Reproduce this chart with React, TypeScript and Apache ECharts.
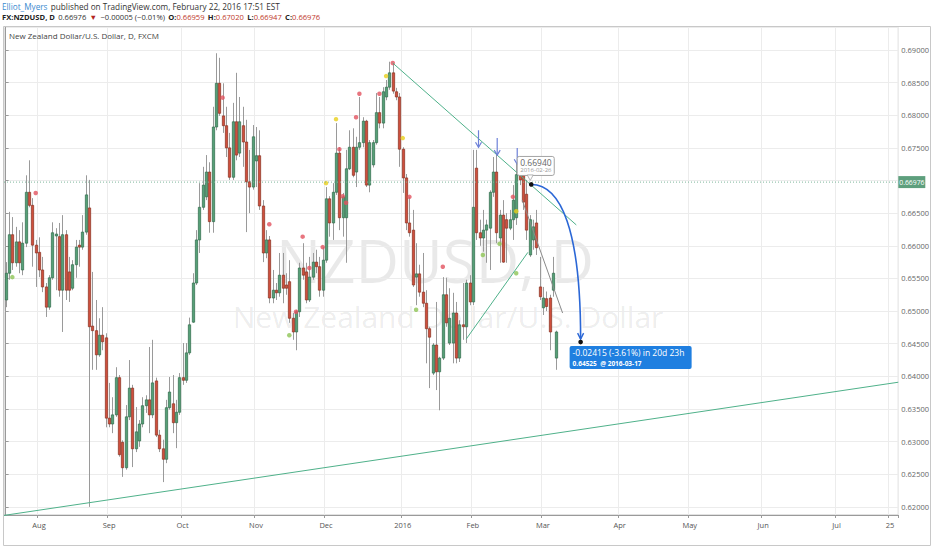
import { useEffect, useRef } from 'react';
import * as echarts from 'echarts';

// FXCM NZDUSD daily bars, first bar 2015-07-20, weekdays only
const firstDay = '2015-07-20';
const dayCount = 268;

const opens = [
  0.6517, 0.6558, 0.6617, 0.6574, 0.6606, 0.6563, 0.6604, 0.6682, 0.6662, 0.6601,
  0.659, 0.6563, 0.6537, 0.6506, 0.6551, 0.6615, 0.6614, 0.6532, 0.6617, 0.656,
  0.6535, 0.6571, 0.6601, 0.6598, 0.6621, 0.6658, 0.6477, 0.647, 0.6433, 0.6463,
  0.6459, 0.6336, 0.6327, 0.6341, 0.6398, 0.6299, 0.626, 0.6338, 0.6382, 0.6289,
  0.6301, 0.6327, 0.6355, 0.6364, 0.6341, 0.6393, 0.631, 0.6289, 0.6273, 0.6352,
  0.6358, 0.6329, 0.6345, 0.6398, 0.6394, 0.6436, 0.6483, 0.6543, 0.6609, 0.6659,
  0.6675, 0.6713, 0.6637, 0.6782, 0.6849, 0.6799, 0.6784, 0.675, 0.6705, 0.679,
  0.6742, 0.6784, 0.6759, 0.6698, 0.669, 0.673, 0.6738, 0.6661, 0.6589, 0.6609,
  0.652, 0.6532, 0.6528, 0.6555, 0.654, 0.6545, 0.6489, 0.6468, 0.6499, 0.6566,
  0.656, 0.6517, 0.6552, 0.6575, 0.6568, 0.6532, 0.6578, 0.6672, 0.6635, 0.6682,
  0.6742, 0.6643, 0.6643, 0.6718, 0.6751, 0.6713, 0.6751, 0.6758, 0.6791, 0.6693,
  0.6724, 0.6758, 0.6804, 0.6788, 0.6828, 0.6843, 0.6865, 0.6836, 0.6828, 0.6748,
  0.6704, 0.6635, 0.6624, 0.6552, 0.6557, 0.6529, 0.6512, 0.6473, 0.6405, 0.6448,
  0.6407, 0.6428, 0.6525, 0.6451, 0.6451, 0.6497, 0.6428, 0.6479, 0.6476, 0.6543,
  0.6514, 0.6719, 0.662, 0.6612, 0.6624, 0.6627, 0.6682, 0.6713, 0.6612, 0.6647,
  0.664, 0.6627, 0.664, 0.6643, 0.6712, 0.6712, 0.6679, 0.6586, 0.6609, 0.6635,
  0.6537, 0.6505, 0.6519, 0.652, 0.6532, 0.6428,
];
const highs = [
  0.6575, 0.6652, 0.6644, 0.6629, 0.6624, 0.6636, 0.6708, 0.6731, 0.6673, 0.6609,
  0.6613, 0.6583, 0.6543, 0.6555, 0.6636, 0.6627, 0.6635, 0.6647, 0.6624, 0.6583,
  0.6578, 0.6609, 0.6609, 0.6647, 0.6708, 0.6701, 0.656, 0.6517, 0.6489, 0.6506,
  0.6466, 0.639, 0.6368, 0.6414, 0.6402, 0.6302, 0.6356, 0.6425, 0.6387, 0.6353,
  0.6333, 0.6368, 0.6371, 0.6445, 0.6456, 0.6398, 0.6318, 0.6303, 0.6364, 0.6399,
  0.6402, 0.6364, 0.6405, 0.6451, 0.6451, 0.649, 0.6558, 0.6624, 0.6696, 0.6721,
  0.6739, 0.6728, 0.6813, 0.6895, 0.6888, 0.6849, 0.6813, 0.6773, 0.6819, 0.6865,
  0.6828, 0.6813, 0.6793, 0.6747, 0.6785, 0.6782, 0.6777, 0.667, 0.6624, 0.6615,
  0.6563, 0.6543, 0.6589, 0.6589, 0.6558, 0.6578, 0.6497, 0.6502, 0.6574, 0.6604,
  0.6574, 0.6583, 0.6589, 0.6594, 0.6583, 0.6598, 0.669, 0.6676, 0.6696, 0.6788,
  0.6751, 0.6681, 0.6747, 0.6777, 0.678, 0.6767, 0.6828, 0.6797, 0.6793, 0.6762,
  0.6762, 0.6834, 0.6828, 0.6843, 0.6854, 0.6882, 0.688, 0.6842, 0.6834, 0.6751,
  0.671, 0.6675, 0.6655, 0.6604, 0.6571, 0.6589, 0.6532, 0.6476, 0.6451, 0.6514,
  0.643, 0.6552, 0.6551, 0.6535, 0.6528, 0.6514, 0.6486, 0.6543, 0.6548, 0.6555,
  0.6747, 0.6747, 0.664, 0.6655, 0.664, 0.6685, 0.6736, 0.6742, 0.6655, 0.667,
  0.665, 0.6655, 0.6693, 0.6727, 0.6727, 0.6719, 0.6701, 0.6647, 0.664, 0.6655,
  0.6583, 0.6537, 0.653, 0.6525, 0.6583, 0.647,
];
const lows = [
  0.6506, 0.6548, 0.6563, 0.6568, 0.6558, 0.6555, 0.6598, 0.6659, 0.6568, 0.6537,
  0.6552, 0.6529, 0.6491, 0.6502, 0.6548, 0.6532, 0.6522, 0.6468, 0.6517, 0.6514,
  0.6532, 0.6551, 0.6568, 0.6594, 0.6617, 0.62, 0.641, 0.641, 0.643, 0.644,
  0.6322, 0.6322, 0.6313, 0.6338, 0.6277, 0.6246, 0.6257, 0.6333, 0.6261, 0.6284,
  0.6292, 0.6322, 0.6344, 0.6313, 0.6336, 0.6307, 0.6284, 0.6238, 0.6267, 0.6349,
  0.6313, 0.629, 0.6341, 0.6387, 0.639, 0.6433, 0.6482, 0.654, 0.6589, 0.6655,
  0.667, 0.662, 0.662, 0.6777, 0.6799, 0.6773, 0.6736, 0.6701, 0.6701, 0.6731,
  0.6736, 0.6721, 0.6621, 0.665, 0.6686, 0.669, 0.6655, 0.6575, 0.6581, 0.6512,
  0.6512, 0.6517, 0.6522, 0.6512, 0.6525, 0.6482, 0.6456, 0.644, 0.6491, 0.6548,
  0.6512, 0.6514, 0.6548, 0.6558, 0.6522, 0.6522, 0.6574, 0.6614, 0.6609, 0.6678,
  0.6624, 0.6614, 0.6574, 0.6716, 0.6705, 0.669, 0.6747, 0.6751, 0.669, 0.6682,
  0.672, 0.6755, 0.678, 0.678, 0.6823, 0.6839, 0.6833, 0.6823, 0.6721, 0.6681,
  0.6624, 0.6614, 0.6537, 0.6509, 0.6522, 0.6506, 0.642, 0.6382, 0.6402, 0.6379,
  0.6348, 0.6425, 0.6476, 0.6448, 0.642, 0.642, 0.6422, 0.6456, 0.6451, 0.6509,
  0.6509, 0.6609, 0.66, 0.6591, 0.6574, 0.6563, 0.6675, 0.6604, 0.6574, 0.6574,
  0.6574, 0.6624, 0.6609, 0.6632, 0.6693, 0.6655, 0.6609, 0.6583, 0.6594, 0.6586,
  0.6517, 0.6494, 0.65, 0.644, 0.6522, 0.641,
];
const closes = [
  0.6558, 0.6617, 0.6574, 0.6606, 0.6574, 0.6604, 0.6682, 0.6662, 0.6601, 0.6589,
  0.6563, 0.6537, 0.6506, 0.6551, 0.662, 0.6618, 0.6532, 0.6617, 0.6532, 0.6532,
  0.6571, 0.6598, 0.6598, 0.6621, 0.6678, 0.6476, 0.647, 0.6433, 0.6463, 0.6453,
  0.6336, 0.6327, 0.6341, 0.6398, 0.628, 0.626, 0.6338, 0.6382, 0.6289, 0.6315,
  0.6327, 0.6355, 0.6364, 0.6341, 0.639, 0.631, 0.6289, 0.6273, 0.6352, 0.6376,
  0.6329, 0.6345, 0.6398, 0.6394, 0.6436, 0.6479, 0.6543, 0.6609, 0.6659, 0.6693,
  0.6713, 0.6637, 0.6782, 0.6849, 0.6803, 0.6784, 0.675, 0.6705, 0.679, 0.6739,
  0.679, 0.6759, 0.6698, 0.669, 0.6767, 0.6738, 0.6661, 0.6589, 0.6609, 0.652,
  0.6532, 0.6528, 0.6555, 0.6535, 0.6535, 0.6489, 0.6468, 0.6499, 0.6566, 0.6555,
  0.6517, 0.6552, 0.6575, 0.6568, 0.6532, 0.6578, 0.6672, 0.6635, 0.6682, 0.6742,
  0.6643, 0.6675, 0.6718, 0.6751, 0.6708, 0.6751, 0.6758, 0.6791, 0.6693, 0.6758,
  0.6758, 0.6804, 0.6788, 0.6836, 0.6843, 0.6865, 0.6837, 0.6828, 0.6748, 0.6704,
  0.6635, 0.662, 0.654, 0.6557, 0.6529, 0.6512, 0.6473, 0.646, 0.6448, 0.6407,
  0.6428, 0.6525, 0.6482, 0.6489, 0.6497, 0.6428, 0.6479, 0.6476, 0.6543, 0.6514,
  0.6659, 0.662, 0.6612, 0.6624, 0.6632, 0.6682, 0.6713, 0.662, 0.6647, 0.6575,
  0.6627, 0.664, 0.667, 0.6709, 0.6701, 0.6667, 0.6624, 0.664, 0.6629, 0.6597,
  0.6522, 0.652, 0.6507, 0.6468, 0.6558, 0.6468,
];

// indicator dots (bar index, price, kind)
const dotIndex = [2, 9, 65, 79, 85, 87, 89, 91, 95, 96, 99, 100, 101, 102, 105, 106, 112, 114, 116, 119, 121, 123, 131, 143, 148, 152, 153, 153];
const dotPrice = [
  0.6552, 0.6681, 0.6827, 0.6633, 0.6463, 0.6499, 0.6614, 0.6566, 0.6598, 0.6696,
  0.6794, 0.6748, 0.6676, 0.6666, 0.6797, 0.6833, 0.6833, 0.686, 0.688, 0.6765,
  0.6675, 0.6502, 0.6568, 0.6586, 0.6603, 0.6675, 0.6653, 0.6558,
];
const dotKind = [
  'g', 'r', 'r', 'r', 'g', 'r', 'r', 'r', 'r', 'y',
  'y', 'r', 'r', 'r', 'r', 'r', 'r', 'y', 'r', 'y',
  'r', 'g', 'r', 'g', 'g', 'r', 'y', 'g',
];

const lastPrice = 0.66976;
const yMin = 0.61876;
const yMax = 0.69352;

// drawings, in [bar index, price]
const supportLine = [[-0.5, 0.6187], [267.5, 0.6391]];
const fallLine = [[116, 0.688], [171, 0.6632]];
const riseLine = [[138, 0.6457], [156.5, 0.659]];
const greyLine = [[154.8, 0.667], [166.9, 0.6497]];
const arrowMarks = [[141.7, 0.6777, 0.6751], [147.3, 0.6765, 0.6739], [153.3, 0.675, 0.6725]];
const curveFrom = [157.5, 0.6694];
const curveCtrl = [[166.4, 0.6694], [172.3, 0.6624]];
const curveTo = [172.3, 0.64525];
const tipPrice = '0.66940';
const tipDate = '2016-02-26';
const moveText = '-0.02415 (-3.61%) in 20d 23h';
const targetText = '0.64525  @ 2016-03-17';

const MONTHS = ['Jan', 'Feb', 'Mar', 'Apr', 'May', 'Jun', 'Jul', 'Aug', 'Sep', 'Oct', 'Nov', 'Dec'];
const FONT = 'Open Sans';

const days: Date[] = [];
for (let t = Date.parse(firstDay); days.length < dayCount; t += 86400000) {
  const d = new Date(t);
  if (d.getUTCDay() !== 0 && d.getUTCDay() !== 6) days.push(d);
}
const categories = days.map((d) => d.toISOString().slice(0, 10));
const labelAt: Record<number, string> = {};
days.forEach((d, i) => {
  if (i > 0 && d.getUTCMonth() !== days[i - 1].getUTCMonth()) {
    labelAt[i] = d.getUTCMonth() === 0 ? String(d.getUTCFullYear()) : MONTHS[d.getUTCMonth()];
  }
  if (categories[i] === '2016-07-25') labelAt[i] = '25';
});
const hasLabel = (i: number) => labelAt[i] !== undefined;

export default function App() {
  const chartRef = useRef<HTMLDivElement>(null);

  useEffect(() => {
    document.body.style.margin = '0';
    if (!chartRef.current) return;
    const chart = echarts.init(chartRef.current, null, { renderer: 'svg' });

    const dotColors: Record<string, string> = { r: '#e2535f', y: '#e9cf1c', g: '#8dc455' };

    const option = {
      animation: false,
      backgroundColor: '#ffffff',
      textStyle: { fontFamily: FONT },
      grid: { left: 4, right: 27, top: 27, bottom: 35, show: true, borderColor: '#c4c4c4', borderWidth: 1 },
      xAxis: [
        {
          type: 'category',
          data: categories,
          boundaryGap: true,
          axisLine: { show: true, lineStyle: { color: '#9a9a9a' } },
          axisTick: { show: true, interval: hasLabel, length: 3, lineStyle: { color: '#9a9a9a' } },
          axisLabel: {
            interval: hasLabel,
            formatter: (_v: string, i: number) => labelAt[i] ?? '',
            fontSize: 7.5,
            color: '#555',
            margin: 6,
            fontFamily: FONT,
          },
          splitLine: { show: true, interval: hasLabel, lineStyle: { color: '#ececec' } },
        },
        { type: 'value', min: -0.5, max: dayCount - 0.5, show: false },
      ],
      yAxis: {
        type: 'value',
        position: 'right',
        min: yMin,
        max: yMax,
        splitNumber: 15,
        axisLine: { show: true, lineStyle: { color: '#9a9a9a' } },
        axisTick: { show: true, length: 3, lineStyle: { color: '#9a9a9a' } },
        axisLabel: {
          fontSize: 7.5,
          color: '#666',
          margin: 3,
          showMinLabel: false,
          showMaxLabel: false,
          // the last-price tag hides the tick label under it
          formatter: (v: number) => (Math.abs(v - lastPrice) < 0.0015 ? '' : v.toFixed(5)),
          fontFamily: FONT,
        },
        splitLine: { show: true, lineStyle: { color: '#ececec' } },
      },
      graphic: [
        {
          type: 'text', x: 2, y: 6, z: 10,
          style: {
            text: '{a|Elliot_Myers} {b|published on TradingView.com, February 22, 2016 17:51 EST}',
            verticalAlign: 'middle',
            rich: {
              a: { fill: '#3b8bd0', fontSize: 8.2, fontFamily: FONT },
              b: { fill: '#333', fontSize: 8.2, fontFamily: FONT },
            },
          },
        },
        {
          type: 'text', x: 2, y: 17, z: 10,
          style: {
            text: '{k|FX:NZDUSD, D} {n|0.66976} {r|▼} {n|−0.00005 (−0.01%)} {k|O:}{v|0.66959} {k|H:}{v|0.67020} {k|L:}{v|0.66947} {k|C:}{v|0.66976}',
            verticalAlign: 'middle',
            rich: {
              k: { fill: '#222', fontSize: 7.6, fontWeight: 'bold', fontFamily: FONT },
              n: { fill: '#333', fontSize: 7.6, fontFamily: FONT },
              r: { fill: '#b3261e', fontSize: 7.6, fontFamily: FONT },
              v: { fill: '#c0392b', fontSize: 7.6, fontFamily: FONT },
            },
          },
        },
        {
          type: 'rect', z: 10,
          shape: { x: 3.5, y: 26.5, width: 927, height: 519 },
          style: { fill: 'none', stroke: '#c8c8c8', lineWidth: 1 },
        },
        {
          type: 'text', x: 9, y: 35, z: 10,
          style: { text: 'New Zealand Dollar/U.S. Dollar, D, FXCM', fill: '#444', fontSize: 8, fontFamily: FONT, verticalAlign: 'middle' },
        },
        {
          type: 'text', x: 435, y: 260, z: 0,
          style: { text: 'NZDUSD, D', fill: 'rgba(0,0,0,0.085)', fontSize: 60, fontFamily: FONT, align: 'center', verticalAlign: 'middle' },
        },
        {
          type: 'text', x: 448, y: 316, z: 0,
          style: { text: 'New Zealand Dollar/U.S. Dollar', fill: 'rgba(0,0,0,0.085)', fontSize: 30, fontFamily: FONT, align: 'center', verticalAlign: 'middle' },
        },
      ],
      series: [
        {
          type: 'custom',
          name: 'NZDUSD',
          xAxisIndex: 1,
          clip: true,
          z: 2,
          data: opens.map((o, i) => [i, o, highs[i], lows[i], closes[i]]),
          encode: { x: 0, y: [1, 2, 3, 4] },
          renderItem: (_p: any, api: any) => {
            const i = api.value(0);
            const o = api.coord([i, api.value(1)]);
            const h = api.coord([i, api.value(2)]);
            const l = api.coord([i, api.value(3)]);
            const c = api.coord([i, api.value(4)]);
            const up = api.value(4) >= api.value(1);
            const w = api.size([1, 0])[0] * 0.7;
            const x = Math.round(o[0]) + 0.5;
            const top = Math.min(o[1], c[1]);
            return {
              type: 'group',
              children: [
                { type: 'line', shape: { x1: x, y1: h[1], x2: x, y2: l[1] }, style: { stroke: '#9a9a9a', lineWidth: 1 } },
                {
                  type: 'rect',
                  shape: { x: x - w / 2, y: top, width: w, height: Math.max(1, Math.abs(o[1] - c[1])) },
                  style: { fill: up ? '#56a077' : '#cf4f3d', stroke: up ? '#2f6a4a' : '#86301f', lineWidth: 0.7 },
                },
              ],
            };
          },
        },
        {
          type: 'scatter',
          xAxisIndex: 1,
          z: 4,
          symbolSize: 4.5,
          data: dotIndex.map((x, i) => ({ value: [x, dotPrice[i]], itemStyle: { color: dotColors[dotKind[i]] } })),
        },
        {
          type: 'custom',
          xAxisIndex: 1,
          z: 5,
          silent: true,
          clip: false,
          data: [[0, lastPrice]],
          renderItem: (_p: any, api: any) => {
            const pt = (v: number[]) => api.coord(v);
            const kids: any[] = [];
            const seg = (a: number[], b: number[], stroke: string, lineWidth = 1, lineDash?: number[]) => {
              const p = pt(a);
              const q = pt(b);
              kids.push({ type: 'line', shape: { x1: p[0], y1: p[1], x2: q[0], y2: q[1] }, style: { stroke, lineWidth, lineDash } });
            };
            // last price line
            seg([-0.5, lastPrice], [dayCount - 0.5, lastPrice], '#7db59a', 1, [1, 2]);
            seg(supportLine[0], supportLine[1], '#4fb18a', 1);
            seg(fallLine[0], fallLine[1], '#4fb18a', 1);
            seg(riseLine[0], riseLine[1], '#4fb18a', 1);
            seg(greyLine[0], greyLine[1], '#8a8a8a', 1);
            arrowMarks.forEach(([i, from, to]) => {
              seg([i, from], [i, to], '#6d80d8', 1.2);
              const t = pt([i, to]);
              kids.push({ type: 'polyline', shape: { points: [[t[0] - 3, t[1] - 5], [t[0], t[1]], [t[0] + 3, t[1] - 5]] }, style: { stroke: '#6d80d8', lineWidth: 1.2, fill: 'none' } });
            });
            const s = pt(curveFrom);
            const c1 = pt(curveCtrl[0]);
            const c2 = pt(curveCtrl[1]);
            const e = pt(curveTo);
            kids.push({
              type: 'bezierCurve',
              shape: { x1: s[0], y1: s[1], cpx1: c1[0], cpy1: c1[1], cpx2: c2[0], cpy2: c2[1], x2: e[0], y2: e[1] - 3 },
              style: { stroke: '#2b67d6', lineWidth: 1.6, fill: 'none' },
            });
            kids.push({ type: 'polyline', shape: { points: [[e[0] - 3, e[1] - 9], [e[0], e[1] - 3], [e[0] + 3, e[1] - 9]] }, style: { stroke: '#2b67d6', lineWidth: 1.4, fill: 'none' } });
            // tooltip box at start
            kids.push({ type: 'rect', shape: { x: s[0] - 14, y: s[1] - 28, width: 37, height: 19, r: 2 }, style: { fill: '#fff', stroke: '#a3a3a3', lineWidth: 1 } });
            kids.push({ type: 'polygon', shape: { points: [[s[0] - 4, s[1] - 9.5], [s[0] - 1, s[1] - 4], [s[0] + 2, s[1] - 9.5]] }, style: { fill: '#fff', stroke: '#a3a3a3', lineWidth: 0.8 } });
            kids.push({ type: 'text', x: s[0] - 11, y: s[1] - 26.5, style: { text: tipPrice, fill: '#666', fontSize: 8.5, fontFamily: FONT, verticalAlign: 'top' } });
            kids.push({ type: 'text', x: s[0] - 11, y: s[1] - 17, style: { text: tipDate, fill: '#999', fontSize: 6, fontFamily: FONT, verticalAlign: 'top' } });
            kids.push({ type: 'circle', shape: { cx: s[0], cy: s[1], r: 2.3 }, style: { fill: '#111' } });
            // target box at end
            kids.push({ type: 'circle', shape: { cx: e[0], cy: e[1], r: 2.3 }, style: { fill: '#111' } });
            kids.push({ type: 'rect', shape: { x: e[0] - 11, y: e[1] + 4, width: 122, height: 23, r: 2 }, style: { fill: '#1f7fe0' } });
            kids.push({ type: 'text', x: e[0] - 8, y: e[1] + 6, style: { text: moveText, fill: '#fff', fontSize: 8.5, fontFamily: FONT, verticalAlign: 'top' } });
            kids.push({ type: 'text', x: e[0] - 8, y: e[1] + 18, style: { text: targetText, fill: '#fff', fontSize: 6.5, fontWeight: 'bold', fontFamily: FONT, verticalAlign: 'top' } });
            // last price label on the axis
            const lp = pt([dayCount - 0.5, lastPrice]);
            kids.push({ type: 'rect', shape: { x: lp[0], y: lp[1] - 6, width: 27, height: 12 }, style: { fill: '#5e9f7d' } });
            kids.push({ type: 'text', x: lp[0] + 1, y: lp[1], style: { text: lastPrice.toFixed(5), fill: '#fff', fontSize: 6.8, fontFamily: FONT, verticalAlign: 'middle' } });
            return { type: 'group', children: kids };
          },
        },
      ],
    };

    chart.setOption(option);
    return () => chart.dispose();
  }, []);

  return <div ref={chartRef} style={{ width: 932, height: 550 }} />;
}
